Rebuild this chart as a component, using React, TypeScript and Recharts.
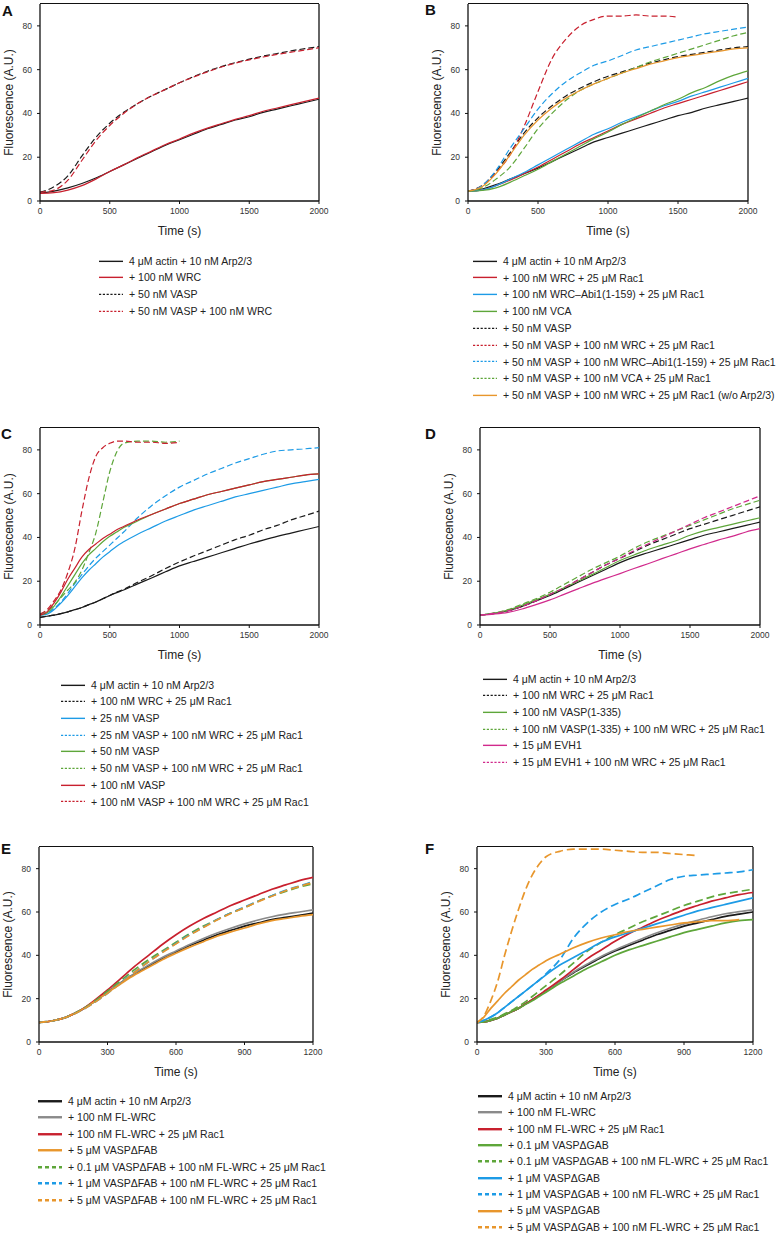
import React from 'react';
import { LineChart, Line, XAxis, YAxis, Legend, CartesianGrid } from 'recharts';

const FONT = '"Liberation Sans", Arial, Helvetica, sans-serif';

const BLACK = '#1a1a1a';
const RED = '#c8202e';
const BLUE = '#1d9be6';
const GREEN = '#5ea63a';
const ORANGE = '#e8962c';
const MAGENTA = '#d12a8c';
const GREY = '#8a8a8a';

const ticks2000 = [0, 500, 1000, 1500, 2000];
const ticks1200 = [0, 300, 600, 900, 1200];
const yTicks = [0, 20, 40, 60, 80];
const yMax = 90;

// time grids (s)
const time2000 = [0, 100, 200, 300, 400, 500, 600, 700, 800, 900, 1000, 1100, 1200, 1300, 1400, 1500, 1600, 1700, 1800, 1900, 2000];
const timeC = [0, 50, 100, 150, 200, 250, 300, 350, 400, 450, 500, 550, 600, 700, 800, 900, 1000, 1100, 1200, 1300, 1400, 1500, 1600, 1700, 1800, 1900, 2000];
const time1200 = [0, 60, 120, 180, 240, 300, 360, 420, 480, 540, 600, 660, 720, 780, 840, 900, 960, 1020, 1080, 1140, 1200];
const timeF = [0, 30, 60, 90, 120, 150, 180, 210, 240, 270, 300, 360, 420, 480, 540, 600, 660, 720, 780, 840, 900, 960, 1020, 1080, 1140, 1200];

// panel A
const aActin = [3.5, 4.5, 6, 8, 10.5, 13.5, 16.5, 19.5, 22.5, 25.5, 28, 30.5, 33, 35, 37, 38.5, 40.5, 42, 43.5, 45, 46.5];
const aWRC = [3.5, 3.8, 5, 7, 10, 13.5, 16.5, 19.8, 22.8, 25.8, 28.3, 31, 33.3, 35.3, 37.3, 39, 41, 42.5, 44, 45.5, 47];
const aVASP = [4, 6.5, 11.5, 20.5, 29, 35.5, 40.5, 44.5, 48, 51, 54, 56.8, 59.3, 61.4, 63.2, 64.8, 66.2, 67.4, 68.6, 69.6, 70.5];
const aVASPWRC = [4, 5, 9.5, 18.5, 27.5, 34.5, 40, 44.5, 48, 51, 54, 56.6, 59, 61.2, 63, 64.5, 65.8, 67, 68, 69, 70];

// panel B
const bActin = [4.5, 5.5, 7.5, 10, 12.5, 15, 18, 21, 24, 27, 29, 31, 33, 35, 37, 39, 40.5, 42.5, 44, 45.5, 47];
const bWRC = [4.5, 5, 7, 9.5, 12.5, 15.5, 19, 22.5, 26, 29, 32, 35, 37.5, 40, 42.5, 44.5, 46.5, 48.5, 50.5, 52.5, 54.5];
const bAbi = [4.5, 5, 7, 10, 13, 16.5, 20, 23.5, 27, 30.5, 33, 36, 38.5, 41, 43.5, 45.5, 48, 50, 52, 54, 56];
const bVCA = [4.5, 4.8, 6, 8.5, 11.5, 14.5, 18, 21.5, 25, 28.5, 31.5, 35, 38, 41, 44, 46.5, 49.5, 52, 55, 57.5, 59.5];
const bVASP = [4.5, 7, 13.5, 22, 31, 38, 43.5, 48, 51.5, 54.5, 57, 59, 61, 63, 64.5, 66, 67, 68, 69, 70, 70.5];
const bVASPWRC = [4.5, 7, 13, 21, 34, 50, 65, 74, 80, 83, 84.5, 84.5, 85, 84.5, 84.5, 84];
const bVASPAbi = [4.5, 7, 14, 24, 33, 42, 49, 54.5, 58.5, 62, 64, 66.5, 69, 70.5, 72, 73.5, 75, 76.5, 77.5, 78.5, 79.5];
const bVASPVCA = [4.5, 6, 10, 15.5, 24, 33, 40, 46, 50.5, 53.5, 56, 58.5, 61, 63.5, 65.5, 67.5, 69.5, 71.5, 73.5, 75.5, 77];
const bNoArp = [4.5, 6.5, 12.5, 21, 30, 37, 42.5, 47, 50.5, 53.5, 56, 58.5, 60.5, 62.5, 64, 65.5, 66.5, 67.5, 68.5, 69.5, 70];

// panel C
const cActin = [3.5, 4, 4.5, 5.2, 6, 7, 8, 9.3, 10.5, 12, 13.5, 14.8, 16, 18.8, 21.5, 24.3, 27, 29, 31, 33, 35, 37, 38.8, 40.5, 42, 43.5, 45];
const cWRC = [3.5, 4, 4.5, 5.2, 6, 7, 8, 9.3, 10.5, 12, 13.5, 15, 16.3, 19.5, 22.5, 25.8, 28.8, 31.5, 34, 36.5, 39, 41, 43.5, 45.5, 48, 50, 52];
const c25 = [4.5, 5, 7, 10, 13.5, 17.5, 21.5, 25, 28, 31, 33.5, 36, 38, 41.5, 44.5, 47.5, 50, 52.5, 54.5, 56.5, 58.5, 60, 61.5, 63, 64.5, 65.5, 66.5];
const c25WRC = [5, 5.5, 7.5, 10.5, 14.5, 19, 23, 27, 30.5, 33.5, 36.5, 39.5, 42.5, 49, 54.5, 59, 63, 66, 69, 71.5, 74, 76, 78, 79.5, 80, 80.5, 81];
const c50 = [4.5, 5.5, 8.5, 13, 18, 23, 28, 32, 35, 38, 40.5, 42.5, 44.5, 47.5, 50.5, 53, 55.5, 57.5, 59.5, 61, 62.5, 64, 65.5, 66.5, 67.5, 68.5, 69];
const c50WRC = [5, 6.5, 9, 12.5, 16, 19.5, 25, 33, 42, 56, 70, 79, 83, 84, 84, 83.5, 84];
const c100 = [4.5, 6, 10, 15, 21, 26, 31, 34.5, 37, 39.5, 41.5, 43.5, 45, 48, 50.5, 53, 55.5, 57.5, 59.5, 61, 62.5, 64, 65.5, 66.5, 67.5, 68.5, 69];
const c100WRC = [5, 7, 11, 16, 24, 35, 52, 67, 77, 81, 83, 84, 84, 83.5, 83.5, 83, 83.5];

// panel D
const dActin = [4.5, 5.3, 6.5, 8.5, 11, 13.5, 16.5, 19.5, 22.5, 25.5, 28.5, 31, 33, 35, 37, 39, 41, 42.5, 44, 45.5, 47];
const dWRC = [4.5, 5.3, 6.5, 8.5, 11, 14, 17, 20.5, 24, 27.5, 30.5, 33.5, 36.5, 39, 41.5, 44, 46, 48, 50, 52, 54];
const dVASP = [4.5, 5.3, 6.8, 9, 11.5, 14, 17, 20, 23, 26.3, 29.5, 32, 34.5, 36.5, 38.5, 41, 43, 44.5, 46, 47.5, 49];
const dVASPWRC = [4.5, 5.5, 7, 9.5, 12, 15, 18.5, 22, 25.5, 28.5, 31.5, 35, 38, 40.5, 43, 45.5, 48, 50.5, 53, 55, 57];
const dEVH = [4.5, 5, 5.8, 7.3, 9.3, 11.5, 14, 16.5, 19, 21.3, 23.5, 25.8, 28, 30.3, 32.5, 34.8, 36.8, 38.8, 40.5, 42.5, 44];
const dEVHWRC = [4.5, 5.3, 6.5, 8.5, 11, 14, 17, 20.5, 24, 27.5, 30.5, 34, 37, 40, 43, 46, 49, 51.5, 54, 56.5, 59];

// panel E
const eActin = [9, 9.8, 11.5, 14.5, 18.5, 23, 27.5, 31.5, 35, 38.5, 41.5, 44.5, 47, 49.5, 51.5, 53.5, 55, 56.5, 57.5, 58.5, 59.5];
const eFL = [9, 9.8, 11.5, 14.5, 18.5, 23, 27.5, 31.8, 35.5, 39, 42, 45, 47.8, 50.3, 52.5, 54.5, 56.3, 57.8, 59, 60, 61];
const eRac = [9, 9.8, 11.5, 14.5, 19, 24, 29.5, 35, 40, 45, 49.5, 53.5, 57, 60, 63, 65.5, 68, 70.5, 72.5, 74.5, 76];
const eFab = [9, 9.8, 11.5, 14.5, 18.5, 22.8, 27, 31, 34.5, 38, 41, 43.8, 46.3, 48.8, 50.8, 52.6, 54.5, 56, 57, 58, 58.8];
const eFab01 = [9, 9.8, 11.5, 14.5, 18.5, 23.5, 28.5, 33.5, 38, 42, 46, 50, 53.5, 56.5, 59.5, 62, 65, 67.5, 69.5, 71.5, 73];
const eFab1 = [9, 9.8, 11.5, 14.3, 18, 22.5, 27.5, 32.5, 37, 41.5, 45.5, 49.5, 53, 56.5, 59.5, 62.3, 65, 67.5, 70, 72, 74];
const eFab5 = [9, 9.8, 11.5, 14.3, 18, 22.5, 27.3, 32.3, 37, 41.3, 45.3, 49.3, 52.8, 56.3, 59.3, 62, 64.8, 67.3, 69.8, 71.8, 73.5];

// panel F
const fActin = [9, 9.3, 10, 11, 12.5, 14, 15.5, 17.5, 19.5, 21.5, 23.5, 28, 32, 35.5, 39, 42, 44.5, 47, 49.5, 51.5, 53.5, 55, 56.5, 58, 59, 60];
const fFL = [9, 9.3, 10, 11, 12.5, 14, 15.5, 17.5, 19.5, 21.5, 23.5, 28, 32.3, 36, 39.5, 42.5, 45.2, 47.8, 50.3, 52.5, 54.5, 56.2, 57.8, 59.2, 60.2, 61];
const fRac = [9, 9.3, 10, 11, 12.5, 14, 15.5, 17.5, 19.5, 21.7, 24, 28.5, 33.5, 38.5, 42.5, 46.5, 50, 53, 56, 58.5, 61, 63, 65, 66.5, 68, 69];
const fGab01 = [9, 9.3, 10, 11, 12.5, 14, 15.5, 17.3, 19, 21, 23, 27, 30.5, 34, 37, 40, 42.5, 44.5, 46.5, 48.5, 50.5, 52, 53.5, 55, 56, 56.5];
const fGab01W = [9, 9.5, 10.5, 11.5, 13, 14.5, 16.5, 18.5, 21, 23.5, 26, 31, 36.5, 42, 46, 49.5, 52.5, 55.5, 58, 60.5, 63, 65, 67, 68.5, 69.5, 70.5];
const fGab1 = [9, 10, 11.5, 13.5, 16, 18.5, 21, 23.5, 26, 28.5, 31, 35.5, 39, 42.5, 46, 48.5, 50.5, 52.5, 54.5, 56.5, 58.5, 60.5, 62, 63.5, 65, 66.5];
const fGab1W = [9, 10, 11.5, 13.5, 16, 18.5, 21, 23.5, 26, 28.5, 31.5, 38, 48, 55, 60, 63.5, 66, 69, 72, 75, 76.5, 77, 77.5, 78, 78.5, 79.5];
const fGab5 = [9, 11.5, 15.5, 19, 22.5, 25.5, 28.5, 31, 33.5, 35.5, 37.5, 40.5, 43.5, 46, 48, 49.5, 51, 52, 53, 54, 55, 55.5, 56, 56, 56.5];
const fGab5W = [9, 12, 19, 28, 40, 51, 61, 70, 77, 82, 85.5, 88, 89, 89, 89, 88.5, 88, 87.5, 87.5, 87, 86.5, 86];

type Series = { key: string; name: string; color: string; dashed?: boolean; values: number[] };

const seriesA: Series[] = [
  { key: 'actin', name: '4 μM actin + 10 nM Arp2/3', color: BLACK, values: aActin },
  { key: 'wrc', name: '+ 100 nM WRC', color: RED, values: aWRC },
  { key: 'vasp', name: '+ 50 nM VASP', color: BLACK, dashed: true, values: aVASP },
  { key: 'vaspwrc', name: '+ 50 nM VASP + 100 nM WRC', color: RED, dashed: true, values: aVASPWRC },
];

const seriesB: Series[] = [
  { key: 'actin', name: '4 μM actin + 10 nM Arp2/3', color: BLACK, values: bActin },
  { key: 'wrc', name: '+ 100 nM WRC + 25 μM Rac1', color: RED, values: bWRC },
  { key: 'abi', name: '+ 100 nM WRC–Abi1(1-159) + 25 μM Rac1', color: BLUE, values: bAbi },
  { key: 'vca', name: '+ 100 nM VCA', color: GREEN, values: bVCA },
  { key: 'vasp', name: '+ 50 nM VASP', color: BLACK, dashed: true, values: bVASP },
  { key: 'vaspwrc', name: '+ 50 nM VASP + 100 nM WRC + 25 μM Rac1', color: RED, dashed: true, values: bVASPWRC },
  { key: 'vaspabi', name: '+ 50 nM VASP + 100 nM WRC–Abi1(1-159) + 25 μM Rac1', color: BLUE, dashed: true, values: bVASPAbi },
  { key: 'vaspvca', name: '+ 50 nM VASP + 100 nM VCA + 25 μM Rac1', color: GREEN, dashed: true, values: bVASPVCA },
  { key: 'noarp', name: '+ 50 nM VASP + 100 nM WRC + 25 μM Rac1 (w/o Arp2/3)', color: ORANGE, values: bNoArp },
];

const seriesC: Series[] = [
  { key: 'actin', name: '4 μM actin + 10 nM Arp2/3', color: BLACK, values: cActin },
  { key: 'wrc', name: '+ 100 nM WRC + 25 μM Rac1', color: BLACK, dashed: true, values: cWRC },
  { key: 'v25', name: '+ 25 nM VASP', color: BLUE, values: c25 },
  { key: 'v25w', name: '+ 25 nM VASP + 100 nM WRC + 25 μM Rac1', color: BLUE, dashed: true, values: c25WRC },
  { key: 'v50', name: '+ 50 nM VASP', color: GREEN, values: c50 },
  { key: 'v50w', name: '+ 50 nM VASP + 100 nM WRC + 25 μM Rac1', color: GREEN, dashed: true, values: c50WRC },
  { key: 'v100', name: '+ 100 nM VASP', color: RED, values: c100 },
  { key: 'v100w', name: '+ 100 nM VASP + 100 nM WRC + 25 μM Rac1', color: RED, dashed: true, values: c100WRC },
];

const seriesD: Series[] = [
  { key: 'actin', name: '4 μM actin + 10 nM Arp2/3', color: BLACK, values: dActin },
  { key: 'wrc', name: '+ 100 nM WRC + 25 μM Rac1', color: BLACK, dashed: true, values: dWRC },
  { key: 'vasp', name: '+ 100 nM VASP(1-335)', color: GREEN, values: dVASP },
  { key: 'vaspw', name: '+ 100 nM VASP(1-335) + 100 nM WRC + 25 μM Rac1', color: GREEN, dashed: true, values: dVASPWRC },
  { key: 'evh', name: '+ 15 μM EVH1', color: MAGENTA, values: dEVH },
  { key: 'evhw', name: '+ 15 μM EVH1 + 100 nM WRC + 25 μM Rac1', color: MAGENTA, dashed: true, values: dEVHWRC },
];

const seriesE: Series[] = [
  { key: 'actin', name: '4 μM actin + 10 nM Arp2/3', color: BLACK, values: eActin },
  { key: 'fl', name: '+ 100 nM FL-WRC', color: GREY, values: eFL },
  { key: 'rac', name: '+ 100 nM FL-WRC + 25 μM Rac1', color: RED, values: eRac },
  { key: 'fab', name: '+ 5 μM VASPΔFAB', color: ORANGE, values: eFab },
  { key: 'fab01', name: '+ 0.1 μM VASPΔFAB + 100 nM FL-WRC + 25 μM Rac1', color: GREEN, dashed: true, values: eFab01 },
  { key: 'fab1', name: '+ 1 μM VASPΔFAB + 100 nM FL-WRC + 25 μM Rac1', color: BLUE, dashed: true, values: eFab1 },
  { key: 'fab5', name: '+ 5 μM VASPΔFAB + 100 nM FL-WRC + 25 μM Rac1', color: ORANGE, dashed: true, values: eFab5 },
];

const seriesF: Series[] = [
  { key: 'actin', name: '4 μM actin + 10 nM Arp2/3', color: BLACK, values: fActin },
  { key: 'fl', name: '+ 100 nM FL-WRC', color: GREY, values: fFL },
  { key: 'rac', name: '+ 100 nM FL-WRC + 25 μM Rac1', color: RED, values: fRac },
  { key: 'g01', name: '+ 0.1 μM VASPΔGAB', color: GREEN, values: fGab01 },
  { key: 'g01w', name: '+ 0.1 μM VASPΔGAB + 100 nM FL-WRC + 25 μM Rac1', color: GREEN, dashed: true, values: fGab01W },
  { key: 'g1', name: '+ 1 μM VASPΔGAB', color: BLUE, values: fGab1 },
  { key: 'g1w', name: '+ 1 μM VASPΔGAB + 100 nM FL-WRC + 25 μM Rac1', color: BLUE, dashed: true, values: fGab1W },
  { key: 'g5', name: '+ 5 μM VASPΔGAB', color: ORANGE, values: fGab5 },
  { key: 'g5w', name: '+ 5 μM VASPΔGAB + 100 nM FL-WRC + 25 μM Rac1', color: ORANGE, dashed: true, values: fGab5W },
];

type Frame = { left: number; top: number; right: number; bottom: number };

type PanelProps = {
  frame: Frame;
  time: number[];
  series: Series[];
  xMax: number;
  xTicks: number[];
  legendX: number;
  legendY: number; // centre of first legend row
  rowH: number;
  heavy?: boolean;
};

const LegendRows = ({ series, rowH, heavy }: { series: Series[]; rowH: number; heavy?: boolean }) => (
  <div>
    {series.map((s) => (
      <div key={s.key} style={{ display: 'flex', alignItems: 'center', height: rowH, whiteSpace: 'nowrap' }}>
        <svg width={24} height={rowH} style={{ flex: 'none' }}>
          <line
            x1={0}
            x2={24}
            y1={rowH / 2}
            y2={rowH / 2}
            stroke={s.color}
            strokeWidth={heavy ? 2.4 : 1.4}
            strokeDasharray={s.dashed ? (heavy ? '4 3' : '2.2 1.6') : undefined}
          />
        </svg>
        <span style={{ marginLeft: 6, fontSize: 10.5, color: '#222', lineHeight: 1 }}>{s.name}</span>
      </div>
    ))}
  </div>
);

const axisStroke = { stroke: '#111', strokeWidth: 1.3 };

// right edge of the plot box (bottom/left come from the axes)
const rightEdge = ({ offset }: any) => [offset.left + offset.width];

const Panel = (p: PanelProps) => {
  const yAxisW = 40;
  const xAxisH = 40;
  const marginTop = 4;
  const chartLeft = p.frame.left - yAxisW;
  const chartTop = p.frame.top - marginTop;
  const width = p.frame.right + 10 - chartLeft;
  const legendTop = p.legendY - p.rowH / 2 - chartTop;
  const height = Math.ceil(legendTop + p.rowH * p.series.length + 6);
  const marginBottom = height - (p.frame.bottom - chartTop) - xAxisH;

  const data = p.time.map((t, i) => {
    const row: Record<string, number | undefined> = { t };
    p.series.forEach((s) => {
      row[s.key] = s.values[i];
    });
    return row;
  });

  const lw = p.heavy ? 1.7 : 1.2;
  const dash = p.heavy ? '8 4' : '6 3';

  return (
    <div style={{ position: 'absolute', left: chartLeft, top: chartTop }}>
      <LineChart width={width} height={height} data={data} margin={{ top: marginTop, right: 10, left: 0, bottom: marginBottom }}>
        <CartesianGrid
          horizontal={false}
          verticalCoordinatesGenerator={rightEdge}
          stroke="#111"
          strokeWidth={1.3}
          strokeDasharray=""
        />
        <XAxis
          dataKey="t"
          type="number"
          domain={[0, p.xMax]}
          ticks={p.xTicks}
          allowDataOverflow
          height={xAxisH}
          tickSize={3}
          tickMargin={4}
          axisLine={axisStroke}
          tickLine={{ stroke: '#111' }}
          tick={{ fontSize: 8.5, fill: '#333' }}
          label={{ value: 'Time (s)', position: 'insideBottom', offset: 6, fontSize: 12, fill: '#222' }}
        />
        <YAxis
          type="number"
          domain={[0, yMax]}
          ticks={yTicks}
          allowDataOverflow
          width={yAxisW}
          tickSize={3}
          tickMargin={5}
          axisLine={axisStroke}
          tickLine={{ stroke: '#111' }}
          tick={{ fontSize: 8.5, fill: '#333' }}
          label={{
            value: 'Fluorescence (A.U.)',
            angle: -90,
            position: 'insideLeft',
            offset: 9,
            fontSize: 12,
            fill: '#222',
            style: { textAnchor: 'middle' },
          }}
        />
        {p.series.map((s) => (
          <Line
            key={s.key}
            type="monotone"
            dataKey={s.key}
            name={s.name}
            stroke={s.color}
            strokeWidth={lw}
            strokeDasharray={s.dashed ? dash : undefined}
            dot={false}
            activeDot={false}
            isAnimationActive={false}
          />
        ))}
        <Legend
          layout="vertical"
          align="center"
          verticalAlign="middle"
          wrapperStyle={{ left: p.legendX - chartLeft, top: legendTop, width: 780 - p.legendX, height: 'auto' }}
          content={() => <LegendRows series={p.series} rowH={p.rowH} heavy={p.heavy} />}
        />
      </LineChart>
      {/* top edge of the plot box */}
      <div
        style={{
          position: 'absolute',
          left: yAxisW,
          top: marginTop - 0.65,
          width: p.frame.right - p.frame.left,
          height: 0,
          borderTop: '1.3px solid #111',
          pointerEvents: 'none',
        }}
      />
    </div>
  );
};

const letterStyle: React.CSSProperties = {
  position: 'absolute',
  fontSize: 15,
  lineHeight: '15px',
  fontWeight: 'bold',
  color: '#111',
};

export default function App() {
  return (
    <div
      style={{
        position: 'absolute',
        left: 0,
        top: 0,
        width: 780,
        height: 1233,
        overflow: 'hidden',
        background: '#fff',
        fontFamily: FONT,
      }}
    >
      <div style={{ ...letterStyle, left: 2, top: 3 }}>A</div>
      <div style={{ ...letterStyle, left: 425, top: 2 }}>B</div>
      <div style={{ ...letterStyle, left: 1, top: 426 }}>C</div>
      <div style={{ ...letterStyle, left: 425, top: 426 }}>D</div>
      <div style={{ ...letterStyle, left: 1, top: 841 }}>E</div>
      <div style={{ ...letterStyle, left: 425, top: 841 }}>F</div>

      <Panel frame={{ left: 40, top: 4, right: 319, bottom: 201 }} time={time2000} series={seriesA} xMax={2000} xTicks={ticks2000} legendX={99} legendY={261} rowH={16.7} />
      <Panel frame={{ left: 468, top: 4, right: 748, bottom: 201 }} time={time2000} series={seriesB} xMax={2000} xTicks={ticks2000} legendX={473} legendY={261} rowH={16.8} />
      <Panel frame={{ left: 40, top: 428, right: 319, bottom: 625 }} time={timeC} series={seriesC} xMax={2000} xTicks={ticks2000} legendX={61} legendY={685} rowH={16.7} />
      <Panel frame={{ left: 480, top: 428, right: 760, bottom: 625 }} time={time2000} series={seriesD} xMax={2000} xTicks={ticks2000} legendX={483} legendY={679} rowH={16.7} />
      <Panel frame={{ left: 39, top: 847, right: 313, bottom: 1042 }} time={time1200} series={seriesE} xMax={1200} xTicks={ticks1200} legendX={38} legendY={1101} rowH={16.5} heavy />
      <Panel frame={{ left: 477, top: 847, right: 753, bottom: 1042 }} time={timeF} series={seriesF} xMax={1200} xTicks={ticks1200} legendX={478} legendY={1096} rowH={16.4} heavy />
    </div>
  );
}
